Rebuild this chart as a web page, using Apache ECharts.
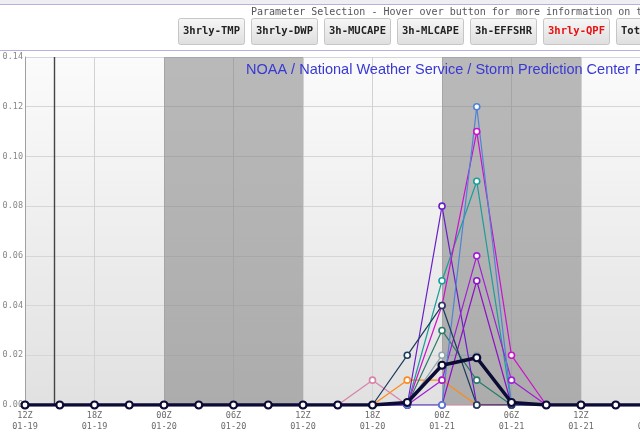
<!DOCTYPE html>
<html><head><meta charset="utf-8">
<script src="https://cdn.jsdelivr.net/npm/echarts@6/dist/echarts.min.js"></script>
<style>html,body{margin:0;padding:0;background:#fff;overflow:hidden}#c{width:640px;height:433px}</style>
</head><body><div id="c"></div>
<script>
// x ticks every 6 h (every 2nd 3-hourly step), starting 12Z 01-19
const tickTimes = ['12Z','18Z','00Z','06Z','12Z','18Z','00Z','06Z','12Z','18Z','00Z'];
const tickDates = ['01-19','01-19','01-20','01-20','01-20','01-20','01-21','01-21','01-21','01-21','01-22'];
// "now" marker, in 3-hourly steps from 12Z 01-19 (14:30Z)
const nowStep = 0.83;
// night shading, in steps
const nights = [[4, 8], [12, 16]];
const buttonLabels = ['3hrly-TMP','3hrly-DWP','3h-MUCAPE','3h-MLCAPE','3h-EFFSHR','3hrly-QPF','Total-QPF'];

// 3-hourly QPF (in), 21 steps from 12Z 01-19
const mPink     = [0,0,0,0,0,0,0,0,0,0,0.01,0,0,0,0,0,0,0,0,0,0];
const mOrange   = [0,0,0,0,0,0,0,0,0,0,0,0.01,0.01,0,0,0,0,0,0,0,0];
const mDarkTeal = [0,0,0,0,0,0,0,0,0,0,0,0,0.03,0.01,0,0,0,0,0,0,0];
const mGray     = [0,0,0,0,0,0,0,0,0,0,0,0,0.02,0.02,0,0,0,0,0,0,0];
const mPurple   = [0,0,0,0,0,0,0,0,0,0,0,0,0.08,0,0,0,0,0,0,0,0];
const mTeal     = [0,0,0,0,0,0,0,0,0,0,0,0,0.05,0.09,0,0,0,0,0,0,0];
const mMagenta  = [0,0,0,0,0,0,0,0,0,0,0,0,0.04,0.11,0.02,0,0,0,0,0,0];
const mViolet   = [0,0,0,0,0,0,0,0,0,0,0,0,0.01,0.06,0.01,0,0,0,0,0,0];
const mViolet2  = [0,0,0,0,0,0,0,0,0,0,0,0,0,0.05,0,0,0,0,0,0,0];
const mBlue     = [0,0,0,0,0,0,0,0,0,0,0,0,0,0.12,0,0,0,0,0,0,0];
const mNavy     = [0,0,0,0,0,0,0,0,0,0,0,0.02,0.04,0,0,0,0,0,0,0,0];
const ensMean   = [0,0,0,0,0,0,0,0,0,0,0,0.001,0.016,0.019,0.001,0,0,0,0,0,0];

const members = [
  {name:'pink', data:mPink, color:'#d883aa'},
  {name:'orange', data:mOrange, color:'#ff8a1a'},
  {name:'darkteal', data:mDarkTeal, color:'#2b7a6a'},
  {name:'gray', data:mGray, color:'#8ea4ac'},
  {name:'purple', data:mPurple, color:'#6a1ec8'},
  {name:'teal', data:mTeal, color:'#1a9e9a'},
  {name:'magenta', data:mMagenta, color:'#cc11cc'},
  {name:'violet', data:mViolet, color:'#a21ed4'},
  {name:'violet2', data:mViolet2, color:'#9010c8'},
  {name:'blue', data:mBlue, color:'#4f82d6'},
  {name:'navy', data:mNavy, color:'#1d3b5c'}
];

const toPts = arr => arr.map((v, i) => [i, v]);
const series = members.map(m => ({
  type:'line', name:m.name, data:toPts(m.data),
  symbol:'circle', symbolSize:6,
  lineStyle:{color:m.color, width:1.2},
  itemStyle:{color:'#fff', borderColor:m.color, borderWidth:1.6},
  emphasis:{disabled:true}, animation:false
}));
series.unshift({
  type:'line', data:[], silent:true, animation:false,
  markArea:{silent:true, itemStyle:{color:'rgba(120,120,120,0.5)'},
    data: nights.map(n => [{xAxis:n[0]},{xAxis:n[1]}])},
  markLine:{silent:true, symbol:'none', label:{show:false},
    lineStyle:{color:'#444', type:'solid', width:1.4},
    data:[{xAxis:nowStep}]}
});
series.push({
  type:'line', name:'mean', data:toPts(ensMean),
  symbol:'circle', symbolSize:7,
  lineStyle:{color:'#0b0b35', width:3.5},
  itemStyle:{color:'#fff', borderColor:'#0b0b35', borderWidth:2.2},
  emphasis:{disabled:true}, animation:false, z:5
});

const graphics = [
  {type:'rect', shape:{x:0,y:0,width:640,height:4}, style:{fill:'#eeeef3'}, silent:true},
  {type:'line', shape:{x1:0,y1:4.5,x2:640,y2:4.5}, style:{stroke:'#b6b0dc', lineWidth:1}},
  {type:'line', shape:{x1:0,y1:50.5,x2:640,y2:50.5}, style:{stroke:'#b6b0dc', lineWidth:1}},
  {type:'text', x:251, y:12, style:{text:'Parameter Selection - Hover over button for more information on the parameter',
    font:'10px "DejaVu Sans Mono"', fill:'#555', verticalAlign:'middle'}}
];
buttonLabels.forEach((lab, i) => {
  const x = 178 + i * 73;
  graphics.push({type:'rect', shape:{x:x+0.5, y:18.5, width:66, height:26, r:2},
    style:{fill:new echarts.graphic.LinearGradient(0,0,0,1,[{offset:0,color:'#f7f7f7'},{offset:1,color:'#dedede'}]),
      stroke:'#c6c6c6', lineWidth:1}});
  graphics.push({type:'text', x:x+33.5, y:31.5, style:{text:lab, font:'bold 10.5px "DejaVu Sans Mono"',
    fill: lab === '3hrly-QPF' ? '#e81010' : '#222', align:'center', verticalAlign:'middle'}});
});
graphics.push({type:'text', x:246, y:70, z:100, style:{text:'NOAA / National Weather Service / Storm Prediction Center Forecast Soundings',
  font:'14.5px "Liberation Sans", Arial', fill:'#3838d6', verticalAlign:'middle'}});

const chart = echarts.init(document.getElementById('c'), null, {renderer:'canvas'});
chart.setOption({
  animation:false,
  backgroundColor:'#ffffff',
  grid:{left:25, top:57, width:695, bottom:28, show:true, borderWidth:0, containLabel:false,
    outerBoundsMode:'none',
    backgroundColor:new echarts.graphic.LinearGradient(0,0,0,1,[{offset:0,color:'#fbfbfb'},{offset:1,color:'#e1e1e1'}])},
  xAxis:{type:'value', min:0, max:20, interval:2,
    axisLine:{show:false}, axisTick:{show:false},
    splitLine:{show:true, lineStyle:{color:'#d2d2d2', width:1}},
    axisLabel:{margin:5, color:'#6a6a6a', fontFamily:'DejaVu Sans Mono', fontSize:8.5, lineHeight:11,
      formatter:v => { const i = Math.round(v/2); return tickTimes[i] + '\n' + tickDates[i]; }}},
  yAxis:{type:'value', min:0, max:0.14, interval:0.02,
    axisLine:{show:true, lineStyle:{color:'#a0a0a0'}}, axisTick:{show:false},
    splitLine:{show:true, lineStyle:{color:'#d6d6d6', width:1}},
    axisLabel:{margin:2, color:'#888', fontFamily:'DejaVu Sans Mono', fontSize:8.5,
      formatter:v => v.toFixed(2)}},
  graphic:graphics,
  series:series
});
</script></body></html>
